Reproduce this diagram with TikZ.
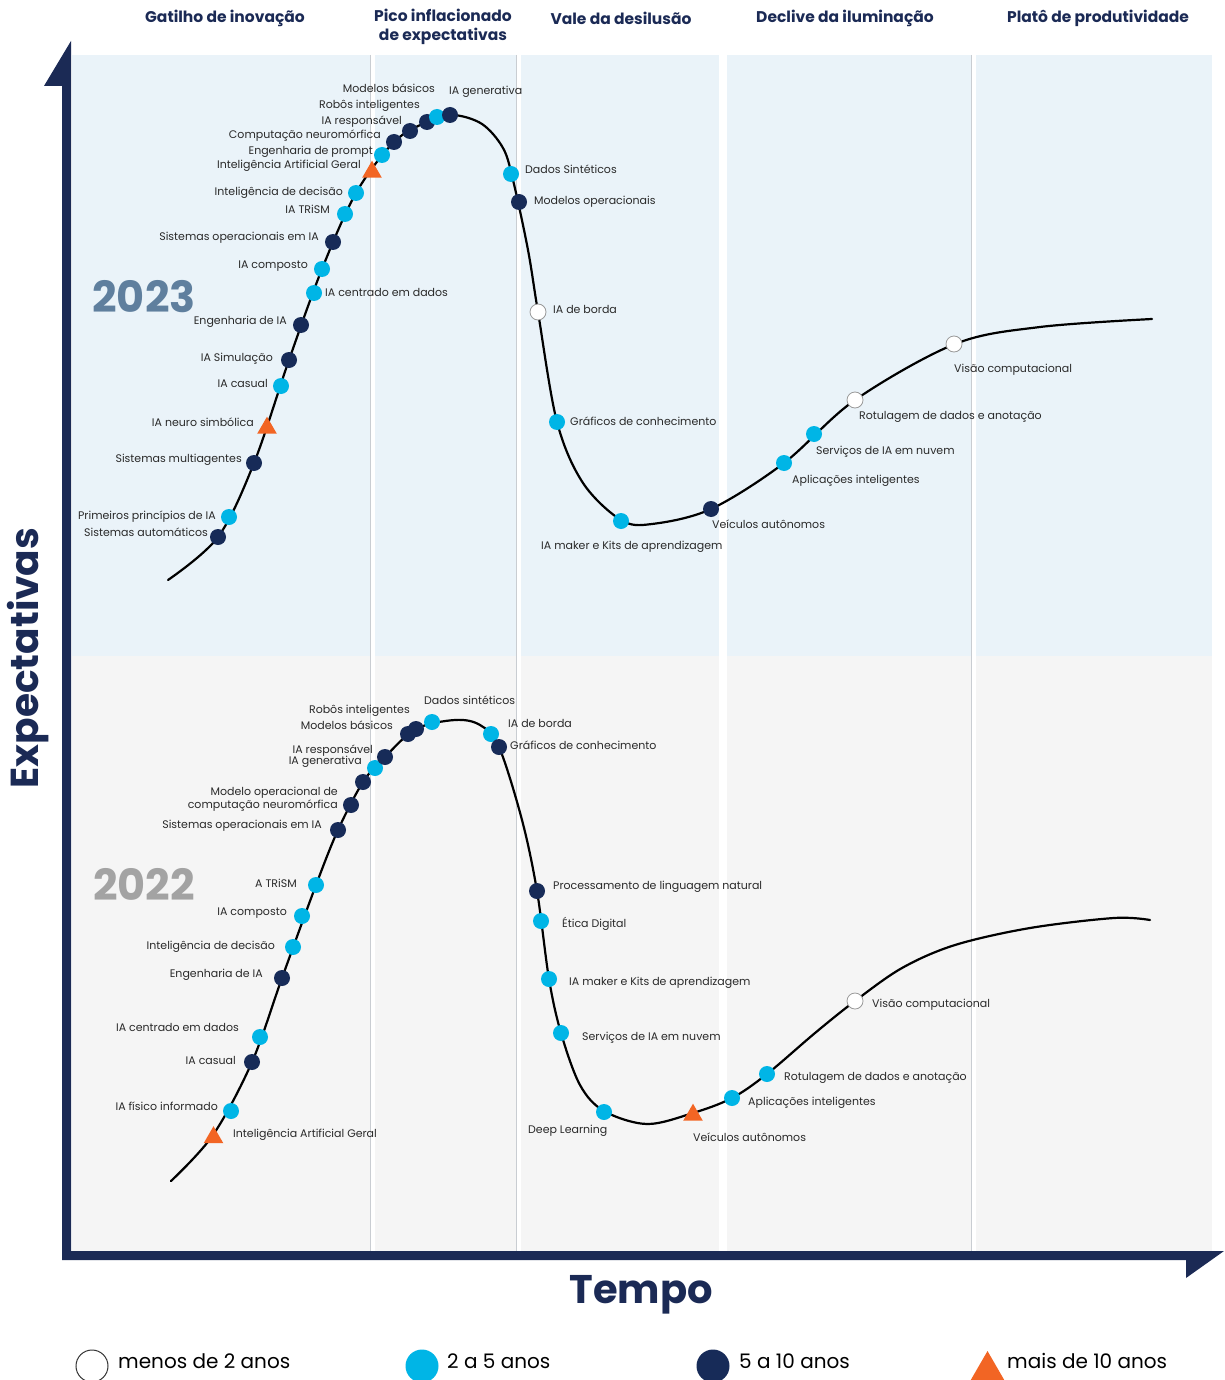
\documentclass[tikz,border=0pt]{standalone}
\usepackage{fontspec}
\setmainfont{Poppins}
\usetikzlibrary{shapes.geometric}

\definecolor{axisnavy}{HTML}{1B2A55}
\definecolor{dotnavyc}{HTML}{172B58}
\definecolor{dotcyanc}{HTML}{00B5E6}
\definecolor{triorangec}{HTML}{F26524}
\definecolor{labeltext}{HTML}{2A2A2A}
\definecolor{topbg}{HTML}{EAF3F9}
\definecolor{botbg}{HTML}{F5F5F5}
\definecolor{sepgray}{HTML}{C9CDD2}
\definecolor{year23}{HTML}{5F7F9E}
\definecolor{year22}{HTML}{A3A3A3}

\tikzset{
  lbl/.style={font=\fontsize{11}{12}\selectfont, text=labeltext, inner sep=0pt},
  lblL/.style={lbl, anchor=mid east},
  lblR/.style={lbl, anchor=mid west},
  phase/.style={font=\fontsize{15.5}{19}\selectfont\bfseries, text=axisnavy, align=center, inner sep=0pt},
  dotwhite/.style={circle, fill=white, draw=gray!80, line width=0.8pt, minimum size=16pt, inner sep=0pt},
  dotcyan/.style={circle, fill=dotcyanc, minimum size=16pt, inner sep=0pt},
  dotnavy/.style={circle, fill=dotnavyc, minimum size=16pt, inner sep=0pt},
  triorange/.style={regular polygon, regular polygon sides=3, fill=triorangec, minimum size=22.6pt, inner sep=0pt},
  hype/.style={line width=2.2pt, line cap=round},
  legendtxt/.style={font=\fontsize{20}{24}\selectfont, text=black, anchor=mid west, inner sep=0pt}
}

\begin{document}
\begin{tikzpicture}[x=1pt, y=-1pt]
  \useasboundingbox (0,0) rectangle (1224,1380);
  \fill[white] (0,0) rectangle (1224,1380);

  % panels
  \fill[topbg] (72,55) rectangle (370,656);
  \fill[topbg] (375,55) rectangle (516,656);
  \fill[topbg] (521,55) rectangle (719,656);
  \fill[topbg] (727,55) rectangle (971,656);
  \fill[topbg] (976,55) rectangle (1212,656);
  \fill[botbg] (72,656) rectangle (370,1251);
  \fill[botbg] (375,656) rectangle (516,1251);
  \fill[botbg] (521,656) rectangle (719,1251);
  \fill[botbg] (727,656) rectangle (971,1251);
  \fill[botbg] (976,656) rectangle (1212,1251);
  \draw[sepgray, line width=1pt] (370.5,55) -- (370.5,1251);
  \draw[sepgray, line width=1pt] (516.5,55) -- (516.5,1251);
  \draw[sepgray, line width=1pt] (971.5,55) -- (971.5,1251);

  % axes
  \fill[axisnavy] (62,1260) -- (62,86) -- (44,86) -- (71,41) -- (71,1251)
    -- (1224,1251) -- (1186,1278) -- (1186,1260) -- cycle;

  % phase titles
  \node[phase] (ph1) at (225,18) {Gatilho de inovação};
  \node[phase] (ph2) at (443,27) {Pico inflacionado\\de expectativas};
  \node[phase] (ph3) at (621,18) {Vale da desilusão};
  \node[phase] (ph4) at (845,18) {Declive da iluminação};
  \node[phase] (ph5) at (1098,18) {Platô de produtividade};

  \node[font=\fontsize{39}{40}\selectfont\bfseries, text=axisnavy, rotate=90] (yax) at (28,658) {Expectativas};
  \node[font=\fontsize{40}{44}\selectfont\bfseries, text=axisnavy] (xax) at (641,1295) {Tempo};

  \node[font=\fontsize{43}{48}\selectfont\bfseries, text=year23] (y23) at (144,297) {2023};
  \node[font=\fontsize{43}{48}\selectfont\bfseries, text=year22] (y22) at (144,884) {2022};

  % 2023 curve
  \draw[hype] plot[smooth, tension=0.55] coordinates {(168,580) (218,537) (254,463) (289,360)
    (322,269) (356,193) (394,142) (427,122) (453,115) (482,124) (503,148) (513,180) (528,250)
    (538,312) (557,422) (583,483) (621,520) (652,524) (711,509) (784,463) (855,400) (955,344)
    (1040,327) (1152,319)};

  % 2023 markers
  \node[dotnavy] (a01) at (218,537) {};
  \node[lblL] (a01t) at (208,534) {Sistemas automáticos};
  \node[dotcyan] (a02) at (229,517) {};
  \node[lblL] (a02t) at (216,517) {Primeiros princípios de IA};
  \node[dotnavy] (a03) at (254,463) {};
  \node[lblL] (a03t) at (242,460) {Sistemas multiagentes};
  \node[triorange] (a04) at (267,428) {};
  \node[lblL] (a04t) at (254,424) {IA neuro simbólica};
  \node[dotcyan] (a05) at (281,386) {};
  \node[lblL] (a05t) at (268,385) {IA casual};
  \node[dotnavy] (a06) at (289,360) {};
  \node[lblL] (a06t) at (273,359) {IA Simulação};
  \node[dotnavy] (a07) at (301,325) {};
  \node[lblL] (a07t) at (287,322) {Engenharia de IA};
  \node[dotcyan] (a08) at (314,293) {};
  \node[lblR] (a08t) at (325,294) {IA centrado em dados};
  \node[dotcyan] (a09) at (322,269) {};
  \node[lblL] (a09t) at (308,266) {IA composto};
  \node[dotnavy] (a10) at (333,242) {};
  \node[lblL] (a10t) at (319,238) {Sistemas operacionais em IA};
  \node[dotcyan] (a11) at (345,214) {};
  \node[lblL] (a11t) at (330,211) {IA TRiSM};
  \node[dotcyan] (a12) at (356,193) {};
  \node[lblL] (a12t) at (343,193) {Inteligência de decisão};
  \node[triorange] (a13) at (372,172) {};
  \node[lblL] (a13t) at (361,166) {Inteligência Artificial Geral};
  \node[dotcyan] (a14) at (382,155) {};
  \node[lblL] (a14t) at (373,152) {Engenharia de prompt};
  \node[dotnavy] (a15) at (394,142) {};
  \node[lblL] (a15t) at (381,136) {Computação neuromórfica};
  \node[dotnavy] (a16) at (410,131) {};
  \node[lblL] (a16t) at (402,122) {IA responsável};
  \node[dotnavy] (a17) at (427,122) {};
  \node[lblL] (a17t) at (420,106) {Robôs inteligentes};
  \node[dotcyan] (a18) at (437,117) {};
  \node[lblL] (a18t) at (435,90) {Modelos básicos};
  \node[dotnavy] (a19) at (450,115) {};
  \node[lblR] (a19t) at (449,92) {IA generativa};
  \node[dotcyan] (a20) at (511,174) {};
  \node[lblR] (a20t) at (525,171) {Dados Sintéticos};
  \node[dotnavy] (a21) at (519,202) {};
  \node[lblR] (a21t) at (534,202) {Modelos operacionais};
  \node[dotwhite] (a22) at (538,312) {};
  \node[lblR] (a22t) at (553,311) {IA de borda};
  \node[dotcyan] (a23) at (557,422) {};
  \node[lblR] (a23t) at (570,423) {Gráficos de conhecimento};
  \node[dotcyan] (a24) at (621,521) {};
  \node[lblR] (a24t) at (541,547) {IA maker e Kits de aprendizagem};
  \node[dotnavy] (a25) at (711,509) {};
  \node[lblR] (a25t) at (712,526) {Veículos autônomos};
  \node[dotcyan] (a26) at (784,463) {};
  \node[lblR] (a26t) at (792,481) {Aplicações inteligentes};
  \node[dotcyan] (a27) at (814,434) {};
  \node[lblR] (a27t) at (816,452) {Serviços de IA em nuvem};
  \node[dotwhite] (a28) at (855,400) {};
  \node[lblR] (a28t) at (859,417) {Rotulagem de dados e anotação};
  \node[dotwhite] (a29) at (954,344) {};
  \node[lblR] (a29t) at (954,370) {Visão computacional};

  % 2022 curve
  \draw[hype] plot[smooth, tension=0.55] coordinates {(171,1181) (213,1135) (252,1062) (282,978)
    (316,885) (338,830) (363,782) (385,757) (416,729) (455,720) (480,725) (499,747)
    (522,820) (537,891) (549,979) (561,1033) (580,1085) (604,1111) (647,1124) (693,1113)
    (732,1098) (767,1074) (815,1033) (855,1001) (902,968) (955,945) (1030,928) (1114,918) (1150,920)};

  % 2022 markers
  \node[triorange] (b01) at (213.5,1137.5) {};
  \node[lblR] (b01t) at (233,1135) {Inteligência Artificial Geral};
  \node[dotcyan] (b02) at (231,1111) {};
  \node[lblL] (b02t) at (218,1108) {IA físico informado};
  \node[dotnavy] (b03) at (252,1062) {};
  \node[lblL] (b03t) at (236,1062) {IA casual};
  \node[dotcyan] (b04) at (260,1037) {};
  \node[lblL] (b04t) at (239,1029) {IA centrado em dados};
  \node[dotnavy] (b05) at (282,978) {};
  \node[lblL] (b05t) at (263,975) {Engenharia de IA};
  \node[dotcyan] (b06) at (293,947) {};
  \node[lblL] (b06t) at (275,947) {Inteligência de decisão};
  \node[dotcyan] (b07) at (302,916) {};
  \node[lblL] (b07t) at (287,913) {IA composto};
  \node[dotcyan] (b08) at (316,885) {};
  \node[lblL] (b08t) at (297,885) {A TRiSM};
  \node[dotnavy] (b09) at (338,830) {};
  \node[lblL] (b09t) at (322,826) {Sistemas operacionais em IA};
  \node[dotnavy] (b10) at (351,805) {};
  \node[lblL] (b10t) at (338,793) {Modelo operacional de};
  \node[lblL] (b10u) at (338,806) {computação neuromórfica};
  \node[dotnavy] (b11) at (363,782) {};
  \node[dotcyan] (b12) at (375,768) {};
  \node[lblL] (b12t) at (362,762) {IA generativa};
  \node[dotnavy] (b13) at (385,757) {};
  \node[lblL] (b13t) at (373,751) {IA responsável};
  \node[dotnavy] (b14) at (408,734) {};
  \node[lblL] (b14t) at (393,727) {Modelos básicos};
  \node[dotnavy] (b15) at (416,729) {};
  \node[lblL] (b15t) at (410,711) {Robôs inteligentes};
  \node[dotcyan] (b16) at (432,722) {};
  \node[lblR] (b16t) at (424,702) {Dados sintéticos};
  \node[dotcyan] (b17) at (491,734) {};
  \node[lblR] (b17t) at (508,725) {IA de borda};
  \node[dotnavy] (b18) at (499,747) {};
  \node[lblR] (b18t) at (510,747) {Gráficos de conhecimento};
  \node[dotnavy] (b19) at (537,891) {};
  \node[lblR] (b19t) at (553,887) {Processamento de linguagem natural};
  \node[dotcyan] (b20) at (541,921) {};
  \node[lblR] (b20t) at (562,925) {Ética Digital};
  \node[dotcyan] (b21) at (549,979) {};
  \node[lblR] (b21t) at (569,983) {IA maker e Kits de aprendizagem};
  \node[dotcyan] (b22) at (561,1033) {};
  \node[lblR] (b22t) at (582,1038) {Serviços de IA em nuvem};
  \node[dotcyan] (b23) at (604,1112) {};
  \node[lblR] (b23t) at (528,1131) {Deep Learning};
  \node[triorange] (b24) at (693,1115) {};
  \node[lblR] (b24t) at (693,1139) {Veículos autônomos};
  \node[dotcyan] (b25) at (732,1098) {};
  \node[lblR] (b25t) at (748,1103) {Aplicações inteligentes};
  \node[dotcyan] (b26) at (767,1074) {};
  \node[lblR] (b26t) at (784,1078) {Rotulagem de dados e anotação};
  \node[dotwhite] (b27) at (855,1001) {};
  \node[lblR] (b27t) at (872,1005) {Visão computacional};

  % legend
  \node[circle, fill=white, draw=black!80, line width=1pt, minimum size=32pt, inner sep=0pt] (k1) at (92,1366) {};
  \node[legendtxt] (k1t) at (118,1366) {menos de 2 anos};
  \node[circle, fill=dotcyanc, minimum size=33pt, inner sep=0pt] (k2) at (422,1366) {};
  \node[legendtxt] (k2t) at (447,1366) {2 a 5 anos};
  \node[circle, fill=dotnavyc, minimum size=33pt, inner sep=0pt] (k3) at (713,1366) {};
  \node[legendtxt] (k3t) at (739,1366) {5 a 10 anos};
  \node[triorange, minimum size=40pt] (k4) at (987.5,1371) {};
  \node[legendtxt] (k4t) at (1007,1366) {mais de 10 anos};
\end{tikzpicture}
\end{document}
